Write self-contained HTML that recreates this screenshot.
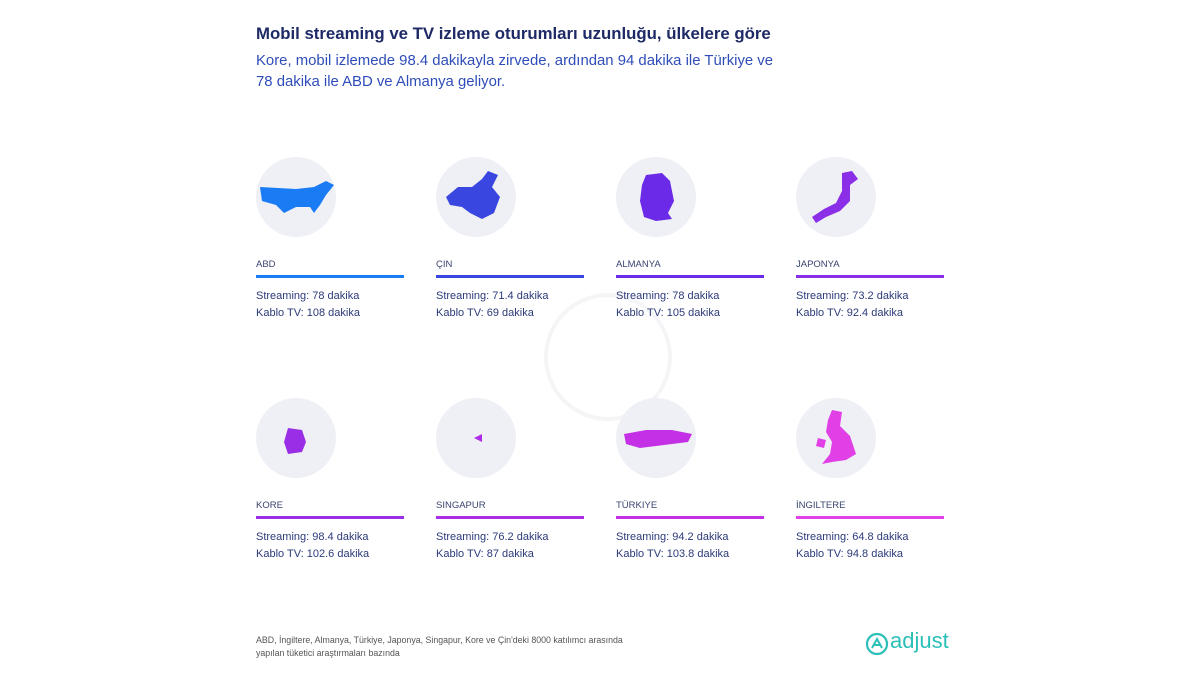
<!DOCTYPE html>
<html><head><meta charset="utf-8"><style>
body{margin:0;width:1200px;height:675px;background:#fff;font-family:"Liberation Sans",sans-serif;position:relative;overflow:hidden}
.t{position:absolute;left:256px;top:24px;font-size:16.8px;font-weight:bold;color:#1e2a66}
.s{position:absolute;left:256px;top:51px;font-size:14.9px;line-height:21px;color:#2f4db8}
.c{position:absolute;width:80px;height:80px;border-radius:50%;background:#eef0f5}
.c svg{position:absolute;left:0;top:0}
.lb{position:absolute;font-size:9.5px;color:#3a4470}
.ln{position:absolute;width:148px;height:3px}
.v{position:absolute;font-size:11px;line-height:17px;color:#2c3a7a}
.f{position:absolute;left:256px;top:634px;font-size:8.8px;line-height:13px;color:#555}
.lo{position:absolute;left:864px;top:628px;font-size:22px;color:#2bbfb8}
</style></head><body>
<div class="t">Mobil streaming ve TV izleme oturumları uzunluğu, ülkelere göre</div>
<div class="s">Kore, mobil izlemede 98.4 dakikayla zirvede, ardından 94 dakika ile Türkiye ve<br>78 dakika ile ABD ve Almanya geliyor.</div>
<svg style="position:absolute;left:543px;top:292px" width="130" height="130"><circle cx="65" cy="65" r="62" fill="none" stroke="#f5f5f7" stroke-width="4"/></svg>

<div class="c" style="left:256px;top:157px"><svg width="80" height="80"><path d="M4 30 L40 32 L58 30 L70 24 L78 28 L70 38 L64 48 L58 56 L54 50 L40 50 L28 56 L20 48 L6 44 Z" fill="#1a7cf5"/></svg></div>
<div class="c" style="left:436px;top:157px"><svg width="80" height="80"><path d="M10 40 L22 30 L36 30 L46 22 L52 14 L62 18 L56 30 L64 40 L58 56 L46 62 L34 56 L26 50 L14 48 Z" fill="#3a46e0"/></svg></div>
<div class="c" style="left:616px;top:157px"><svg width="80" height="80"><path d="M30 18 L46 16 L54 24 L58 44 L52 56 L56 62 L40 64 L28 60 L24 44 L26 28 Z" fill="#6a2ae8"/></svg></div>
<div class="c" style="left:796px;top:157px"><svg width="80" height="80"><path d="M46 16 L56 14 L62 22 L54 28 L54 44 L44 54 L30 60 L20 66 L16 60 L28 52 L40 46 L46 34 Z" fill="#8a2ee8"/></svg></div>
<div class="c" style="left:256px;top:398px"><svg width="80" height="80"><path d="M32 30 L46 32 L50 44 L46 54 L32 56 L28 44 Z" fill="#9a2ee6"/></svg></div>
<div class="c" style="left:436px;top:398px"><svg width="80" height="80"><path d="M38 40 L46 36 L46 44 Z" fill="#ab2ee6"/></svg></div>
<div class="c" style="left:616px;top:398px"><svg width="80" height="80"><path d="M8 36 L30 32 L56 32 L76 36 L72 44 L56 46 L40 48 L24 50 L10 46 Z" fill="#c430e6"/></svg></div>
<div class="c" style="left:796px;top:398px"><svg width="80" height="80"><path d="M36 12 L46 14 L44 28 L54 38 L60 56 L50 62 L36 64 L26 66 L34 56 L36 44 L30 34 L32 22 Z M22 40 L30 42 L28 50 L20 48 Z" fill="#e040e6"/></svg></div>

<div class="lb" style="left:256px;top:259px">ABD</div><div class="ln" style="left:256px;top:275px;background:#1a7cf5"></div>
<div class="v" style="left:256px;top:288px">Streaming: 78 dakika<br>Kablo TV: 108 dakika</div>
<div class="lb" style="left:436px;top:259px">ÇIN</div><div class="ln" style="left:436px;top:275px;background:#3a46e0"></div>
<div class="v" style="left:436px;top:288px">Streaming: 71.4 dakika<br>Kablo TV: 69 dakika</div>
<div class="lb" style="left:616px;top:259px">ALMANYA</div><div class="ln" style="left:616px;top:275px;background:#6a2ae8"></div>
<div class="v" style="left:616px;top:288px">Streaming: 78 dakika<br>Kablo TV: 105 dakika</div>
<div class="lb" style="left:796px;top:259px">JAPONYA</div><div class="ln" style="left:796px;top:275px;background:#8a2ee8"></div>
<div class="v" style="left:796px;top:288px">Streaming: 73.2 dakika<br>Kablo TV: 92.4 dakika</div>

<div class="lb" style="left:256px;top:500px">KORE</div><div class="ln" style="left:256px;top:516px;background:#9a2ee6"></div>
<div class="v" style="left:256px;top:529px">Streaming: 98.4 dakika<br>Kablo TV: 102.6 dakika</div>
<div class="lb" style="left:436px;top:500px">SINGAPUR</div><div class="ln" style="left:436px;top:516px;background:#ab2ee6"></div>
<div class="v" style="left:436px;top:529px">Streaming: 76.2 dakika<br>Kablo TV: 87 dakika</div>
<div class="lb" style="left:616px;top:500px">TÜRKIYE</div><div class="ln" style="left:616px;top:516px;background:#c430e6"></div>
<div class="v" style="left:616px;top:529px">Streaming: 94.2 dakika<br>Kablo TV: 103.8 dakika</div>
<div class="lb" style="left:796px;top:500px">İNGILTERE</div><div class="ln" style="left:796px;top:516px;background:#e040e6"></div>
<div class="v" style="left:796px;top:529px">Streaming: 64.8 dakika<br>Kablo TV: 94.8 dakika</div>

<div class="f">ABD, İngiltere, Almanya, Türkiye, Japonya, Singapur, Kore ve Çin'deki 8000 katılımcı arasında<br>yapılan tüketici araştırmaları bazında</div>
<svg style="position:absolute;left:865px;top:632px" width="24" height="24"><circle cx="12" cy="12" r="10" fill="none" stroke="#2bbfb8" stroke-width="2.2"/><path d="M7 16 L12 7 L17 16 M8 13 L16 13" fill="none" stroke="#2bbfb8" stroke-width="2"/></svg>
<div class="lo" style="left:890px">adjust</div>
</body></html>
